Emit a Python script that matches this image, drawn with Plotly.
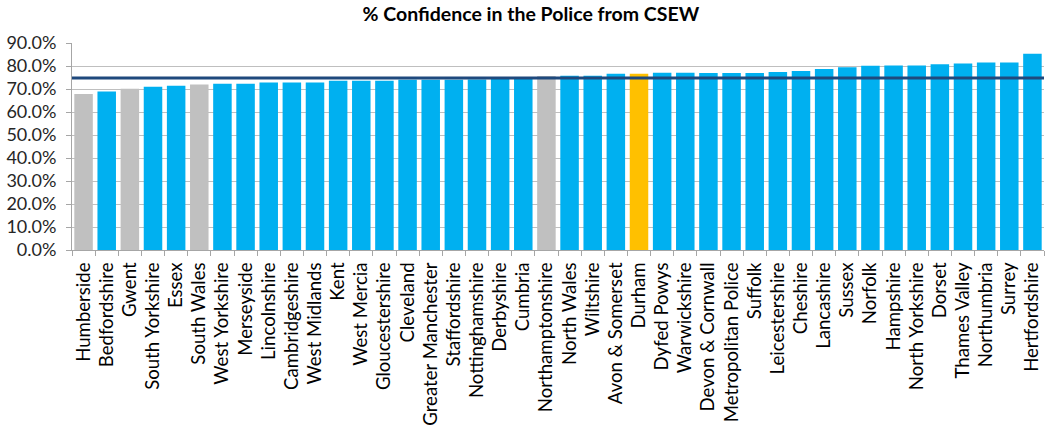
import plotly.graph_objects as go

forces = [
    "Humberside", "Bedfordshire", "Gwent", "South Yorkshire", "Essex", "South Wales",
    "West Yorkshire", "Merseyside", "Lincolnshire", "Cambridgeshire", "West Midlands",
    "Kent", "West Mercia", "Gloucestershire", "Cleveland", "Greater Manchester",
    "Staffordshire", "Nottinghamshire", "Derbyshire", "Cumbria", "Northamptonshire",
    "North Wales", "Wiltshire", "Avon & Somerset", "Durham", "Dyfed Powys",
    "Warwickshire", "Devon & Cornwall", "Metropolitan Police", "Suffolk",
    "Leicestershire", "Cheshire", "Lancashire", "Sussex", "Norfolk", "Hampshire",
    "North Yorkshire", "Dorset", "Thames Valley", "Northumbria", "Surrey", "Hertfordshire",
]

confidence = [
    0.678, 0.689, 0.701, 0.710, 0.714, 0.720,
    0.723, 0.723, 0.728, 0.728, 0.728,
    0.736, 0.736, 0.736, 0.740, 0.740,
    0.740, 0.741, 0.745, 0.745, 0.757,
    0.758, 0.758, 0.766, 0.766, 0.771,
    0.771, 0.770, 0.770, 0.770,
    0.774, 0.778, 0.787, 0.795, 0.801, 0.802,
    0.802, 0.808, 0.811, 0.815, 0.815, 0.853,
]

# Forces shown in grey, and the highlighted force
grey_forces = ["Humberside", "Gwent", "South Wales", "Northamptonshire"]
highlight_force = "Durham"

national_average = 0.748

y_ticks = [i / 10 for i in range(10)]

BLUE = "#00B0F0"
GREY = "#C0C0C0"
GOLD = "#FFC000"
NAVY = "#1F497D"

colors = []
for f in forces:
    if f == highlight_force:
        colors.append(GOLD)
    elif f in grey_forces:
        colors.append(GREY)
    else:
        colors.append(BLUE)

font_family = "Lato, 'Open Sans', sans-serif"

fig = go.Figure()
fig.add_trace(go.Bar(
    x=forces,
    y=confidence,
    marker=dict(color=colors, line=dict(width=0)),
    hovertemplate="%{x}: %{y:.1%}<extra></extra>",
))

fig.add_hline(y=national_average, line=dict(color=NAVY, width=3), layer="above")

fig.update_layout(
    width=1045,
    height=433,
    margin=dict(l=72, r=1, t=43, b=183),
    paper_bgcolor="white",
    plot_bgcolor="white",
    bargap=0.2,
    showlegend=False,
    title=dict(
        text="<b>% Confidence in the Police from CSEW</b>",
        x=0.508, xanchor="center", y=0.968, yanchor="middle",
        font=dict(family=font_family, size=19.5, color="black"),
    ),
    font=dict(family=font_family, size=18, color="#262626"),
)

fig.update_xaxes(
    tickangle=-90,
    ticks="outside",
    tickson="boundaries",
    ticklen=5,
    tickcolor="#A6A6A6",
    showline=True,
    linecolor="#A6A6A6",
    linewidth=1,
    showgrid=False,
    tickfont=dict(size=18.6, color="#000000"),
    ticklabelstandoff=4,
)

fig.update_yaxes(
    range=[0, 0.9],
    tickvals=y_ticks + [0.9],
    tickformat=".1%",
    ticks="outside",
    ticklen=5,
    tickcolor="#A6A6A6",
    showline=True,
    linecolor="#A6A6A6",
    linewidth=1,
    showgrid=True,
    gridcolor="#BFBFBF",
    gridwidth=1,
    zeroline=False,
    tickfont=dict(size=18, color="#262626"),
    ticklabelstandoff=6,
)

fig.write_html("out.html")
